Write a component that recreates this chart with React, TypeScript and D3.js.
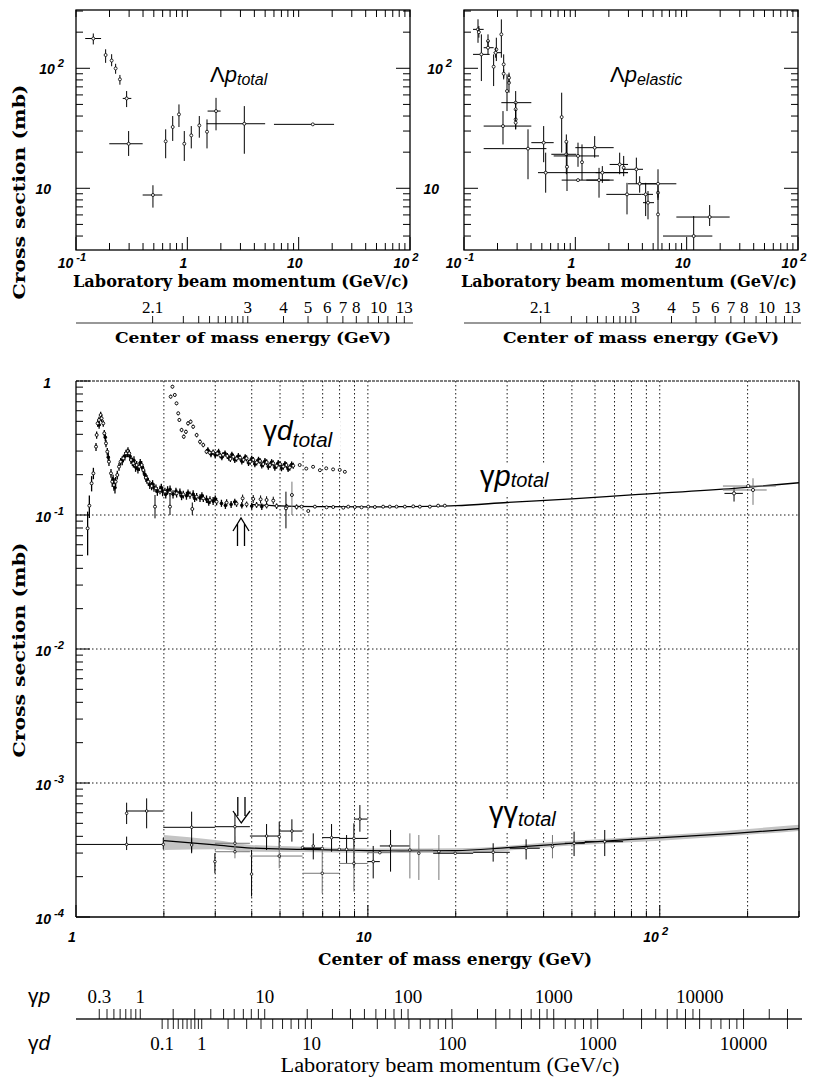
import React from "react";
import * as d3 from "d3";

// ---------------- constants (particle masses, GeV) ----------------
const mP = 0.93827, mL = 1.11568, mD = 1.87561;

// ---------------- DATA ----------------
// Λp total: [p (GeV/c), σ (mb), pLo, pHi, σLo, σHi]
const lambdaPTotal = [
  [0.143, 177, 0.121, 0.168, 158, 195],
  [0.1846, 129, null, null, 111, 144],
  [0.209, 116, null, null, 104, 131],
  [0.227, 99.8, null, null, 90, 109],
  [0.248, 80.9, null, null, 73, 88],
  [0.285, 56.1, 0.263, 0.314, 47.5, 64.6],
  [0.297, 23.5, 0.199, 0.397, 18.6, 30],
  [0.491, 8.79, 0.397, 0.596, 6.9, 10.6],
  [0.639, 24.6, null, null, 17.8, 31],
  [0.739, 32.4, null, null, 24.8, 40],
  [0.841, 41.3, null, null, 32.4, 50],
  [0.939, 23.5, null, null, 16.9, 30],
  [1.085, 27.6, null, null, 21.5, 33],
  [1.281, 33.4, null, null, 26.4, 40],
  [1.502, 29.6, null, null, 21.5, 37.5],
  [1.81, 44.0, 1.52, 1.99, 30.4, 56.7],
  [3.25, 34.5, 1.49, 5.0, 19.4, 48.4],
  [13.4, 34.1, 6.0, 20.8, null, null],
];

// Λp elastic: [p, σ, pLo, pHi, σLo, σHi]
const lambdaPElastic = [
  [0.1336, 211, 0.1205, 0.1502, 163, 256],
  [0.136, 200, null, null, 180, 225],
  [0.1432, 130.6, 0.1205, 0.17, 78.3, 191.7],
  [0.1643, 168.7, null, null, 143.7, 191.7],
  [0.1643, 148.4, 0.1502, 0.1846, 130.6, 168.7],
  [0.1952, 143.7, null, null, 114.9, 179.8],
  [0.1925, 134.9, 0.1846, 0.2165, 122.5, 148.4],
  [0.1846, 103.1, null, null, 71.1, 130.6],
  [0.2165, 191.7, null, null, 122.5, 255.6],
  [0.2272, 107.8, null, null, 80.8, 130.6],
  [0.2272, 90.1, null, null, 83.4, 98],
  [0.224, 33.0, 0.1502, 0.4026, 23.2, 44.0],
  [0.2434, 64.6, null, null, 44.0, 89.0],
  [0.2537, 75.8, null, null, 62.6, 89.0],
  [0.2537, 83.4, null, null, 75.8, 92],
  [0.2912, 51.7, 0.2165, 0.4026, 37.5, 64.6],
  [0.2912, 45.5, null, null, 39.2, 51.7],
  [0.2912, 37.5, null, null, 31.0, 45.5],
  [0.2912, 35.2, null, null, 31.0, 39.2],
  [0.3758, 21.4, 0.1502, 0.55, 11.9, 31.0],
  [0.5195, 24.0, 0.4026, 0.639, 16.5, 33.0],
  [0.5416, 13.5, 0.462, 2.973, 9.19, 19.8],
  [0.7539, 39.2, null, null, 19.8, 62.6],
  [0.8302, 19.2, 0.6088, 1.021, 13.1, 24.4],
  [0.8302, 24.4, null, null, 19.8, 28.1],
  [0.8417, 15.1, null, null, 9.49, 24.0],
  [1.057, 18.6, 0.639, 1.632, 15.1, 24.0],
  [1.148, 16.5, null, null, 11.7, 23.2],
  [1.057, 11.7, 0.7539, 2.034, null, null],
  [1.492, 21.8, 1.0, 2.21, 18.0, 27.2],
  [1.632, 11.7, 1.256, 2.21, 8.35, 14.8],
  [1.748, 13.5, 1.523, 2.973, 11.1, 15.3],
  [2.502, 15.8, 2.034, 2.973, 13.1, 19.8],
  [2.718, 14.8, null, null, 12.6, 18.6],
  [2.912, 8.9, 1.899, 3.917, 6.06, 11.1],
  [3.532, 14.4, 2.681, 4.054, 10.9, 18.0],
  [3.784, 10.9, 2.973, 5.342, 9.19, 12.6],
  [4.283, 8.9, 3.917, 4.985, 5.87, 11.1],
  [4.496, 7.59, 4.054, 5.089, 5.51, 9.49],
  [5.529, 10.9, 3.917, 8.078, 8.35, 14.4],
  [5.529, 9.19, null, null, 8.0, 10.5],
  [5.529, 6.06, null, null, 3.0, 9.49],
  [11.56, 4.0, 6.132, 17.01, 3.0, 5.87],
  [16.09, 5.76, 8.078, 24.34, 4.85, 7.25],
];

// γp total, resonance region and beyond: [√s (GeV), σ (mb), σLo, σHi]
const gammaPBand = [
  [1.096, 0.0795, 0.050, 0.106], [1.111, 0.1174, 0.095, 0.140], [1.131, 0.1723, 0.150, 0.195],
  [1.147, 0.2046, 0.185, 0.225], [1.171, 0.3236, 0.300, 0.345], [1.177, 0.3954, 0.370, 0.420],
  [1.186, 0.4831, 0.455, 0.510], [1.199, 0.5117, 0.485, 0.540], [1.215, 0.5574, 0.525, 0.590],
  [1.224, 0.5264, 0.495, 0.555], [1.240, 0.4831, 0.455, 0.510], [1.250, 0.4069, 0.385, 0.430],
  [1.267, 0.3424, 0.320, 0.365], [1.280, 0.2970, 0.278, 0.316], [1.297, 0.2500, 0.232, 0.268],
  [1.318, 0.2046, 0.190, 0.220], [1.331, 0.1773, 0.162, 0.192], [1.349, 0.1674, 0.152, 0.182],
  [1.367, 0.1773, 0.163, 0.192], [1.385, 0.1988, 0.184, 0.214], [1.404, 0.2294, 0.214, 0.245],
  [1.422, 0.2500, 0.234, 0.266], [1.453, 0.2648, 0.247, 0.282], [1.483, 0.2885, 0.270, 0.307],
  [1.507, 0.3003, 0.281, 0.320], [1.522, 0.2885, 0.270, 0.307], [1.543, 0.2573, 0.240, 0.275],
  [1.572, 0.2430, 0.226, 0.260], [1.614, 0.2361, 0.219, 0.253], [1.648, 0.2294, 0.213, 0.246],
  [1.679, 0.2361, 0.219, 0.253], [1.701, 0.2167, 0.201, 0.232], [1.736, 0.1900, 0.176, 0.204],
  [1.769, 0.1773, 0.165, 0.190], [1.816, 0.1645, 0.153, 0.176], [1.879, 0.1581, 0.147, 0.169],
  [1.940, 0.1537, 0.143, 0.165], [2.017, 0.1493, 0.139, 0.160], [2.099, 0.1476, 0.137, 0.158],
  [2.212, 0.1451, 0.135, 0.155], [2.331, 0.1426, 0.133, 0.152], [2.458, 0.1410, 0.132, 0.150],
  [2.590, 0.1370, 0.128, 0.146], [2.730, 0.1331, 0.125, 0.142], [2.877, 0.1294, 0.121, 0.138],
  [3.032, 0.1257, 0.118, 0.134], [3.281, 0.1236, 0.116, 0.131], [3.549, 0.1215, 0.115, 0.128],
  [3.841, 0.1201, 0.114, 0.126], [4.156, 0.1187, 0.113, 0.125], [4.498, 0.1174, 0.112, 0.123],
  [4.867, 0.1167, 0.111, 0.122], [5.266, 0.1154, 0.110, 0.121], [5.698, 0.1147, 0.110, 0.120],
];
const gammaPScatter = [
  [1.20, 0.470, 0.440, 0.500], [1.26, 0.380, 0.355, 0.405], [1.29, 0.270, 0.252, 0.290],
  [1.34, 0.185, 0.170, 0.200], [1.36, 0.160, 0.145, 0.175], [1.44, 0.255, 0.235, 0.275],
  [1.47, 0.275, 0.255, 0.295], [1.50, 0.290, 0.270, 0.312], [1.56, 0.250, 0.232, 0.268],
  [1.60, 0.228, 0.210, 0.246], [1.66, 0.245, 0.228, 0.262], [1.72, 0.200, 0.185, 0.215],
  [1.79, 0.168, 0.156, 0.180], [1.85, 0.160, 0.149, 0.172], [1.98, 0.150, 0.138, 0.162],
  [2.06, 0.153, 0.142, 0.164], [2.15, 0.143, 0.133, 0.153], [2.27, 0.148, 0.138, 0.158],
  [2.39, 0.139, 0.130, 0.149], [2.52, 0.143, 0.134, 0.153], [2.66, 0.134, 0.125, 0.143],
  [2.80, 0.131, 0.123, 0.140], [2.95, 0.127, 0.119, 0.136], [3.15, 0.122, 0.115, 0.130],
  [3.40, 0.120, 0.113, 0.127], [3.70, 0.118, 0.112, 0.125], [4.00, 0.1165, 0.110, 0.123],
  [4.33, 0.1155, 0.109, 0.122],
  [1.53, 0.275, 0.255, 0.295], [1.58, 0.255, 0.236, 0.274], [1.63, 0.220, 0.204, 0.236],
  [1.69, 0.225, 0.209, 0.241], [1.75, 0.185, 0.171, 0.199], [1.83, 0.170, 0.158, 0.182],
  [1.90, 0.150, 0.139, 0.161], [1.96, 0.160, 0.149, 0.171], [2.03, 0.143, 0.133, 0.153],
  [2.10, 0.155, 0.144, 0.166], [2.20, 0.150, 0.140, 0.160], [2.30, 0.138, 0.129, 0.147],
  [2.42, 0.146, 0.137, 0.155], [2.55, 0.133, 0.125, 0.141], [2.70, 0.139, 0.130, 0.148],
  [2.85, 0.125, 0.117, 0.133], [3.00, 0.132, 0.124, 0.140], [3.25, 0.118, 0.111, 0.125],
  [3.50, 0.125, 0.118, 0.132],
];
// [√s, σ, σLo, σHi, source]
const gammaPOutliers = [
  [1.865, 0.1154, 0.0944, 0.141, 0], [2.099, 0.1154, 0.100, 0.137, 0], [2.503, 0.1109, 0.100, 0.124, 0],
  [3.723, 0.1331, 0.125, 0.142, 0], [4.048, 0.1318, 0.123, 0.141, 0], [4.290, 0.1310, 0.122, 0.140, 0],
  [4.498, 0.1294, 0.121, 0.138, 0], [4.741, 0.1280, 0.120, 0.137, 0], [5.240, 0.1121, 0.0795, 0.1493, 0],
  [5.493, 0.1410, 0.100, 0.1773, 1],
];
// [√s, σ] high-energy points without visible bars
const gammaPHigh = [
  [5.927, 0.1154], [6.248, 0.1071], [6.585, 0.1154], [7.219, 0.1141], [7.607, 0.1147],
  [8.235, 0.1134], [8.564, 0.1154], [9.026, 0.1147], [9.513, 0.1141], [10.03, 0.1154],
  [10.57, 0.1147], [11.28, 0.1154], [11.89, 0.1154], [12.54, 0.1154], [13.39, 0.1154],
  [14.30, 0.1160], [15.07, 0.1154], [16.31, 0.1154], [17.41, 0.1174], [18.35, 0.1174],
];
// HERA: [√s, σ, sLo, sHi, σLo, σHi, source]
const gammaPHera = [
  [179.7, 0.145, 166.6, 192.7, 0.126, 0.160, 0],
  [208.7, 0.1537, 164.6, 232.5, 0.119, 0.188, 1],
  [201, 0.1645, 164.6, 250, null, null, 1],
];
// γp fit curve
const gammaPFitE = [4, 5, 7, 10, 13, 20, 30, 50, 80, 180, 300];
const gammaPFitS = [0.120, 0.117, 0.1155, 0.115, 0.1153, 0.1174, 0.124, 0.132, 0.1415, 0.158, 0.174];

// γd total: [√s, σ, σLo, σHi]
const gammaD = [
  [2.11, 0.764, 0.74, 0.79], [2.14, 0.907, 0.88, 0.935], [2.18, 0.787, 0.76, 0.81],
  [2.21, 0.681, 0.66, 0.70], [2.24, 0.574, 0.555, 0.59], [2.26, 0.512, 0.495, 0.53],
  [2.30, 0.431, 0.415, 0.447], [2.34, 0.384, 0.37, 0.398], [2.38, 0.418, 0.403, 0.433],
  [2.42, 0.483, 0.466, 0.50], [2.47, 0.497, 0.48, 0.515], [2.52, 0.456, 0.44, 0.472],
  [2.59, 0.395, 0.38, 0.41], [2.66, 0.352, 0.338, 0.366], [2.73, 0.333, 0.32, 0.346],
  [2.80, 0.297, 0.285, 0.31], [2.87, 0.292, 0.28, 0.305], [2.95, 0.294, 0.28, 0.308],
  [3.05, 0.288, 0.274, 0.302], [3.12, 0.278, 0.265, 0.292], [3.19, 0.281, 0.267, 0.295],
  [3.30, 0.276, 0.262, 0.29], [3.38, 0.262, 0.249, 0.275], [3.46, 0.272, 0.258, 0.286],
  [3.55, 0.264, 0.25, 0.278], [3.65, 0.268, 0.254, 0.282], [3.75, 0.258, 0.245, 0.271],
  [3.84, 0.265, 0.251, 0.279], [3.95, 0.250, 0.237, 0.263], [4.05, 0.258, 0.245, 0.271],
  [4.16, 0.247, 0.234, 0.26], [4.27, 0.253, 0.24, 0.266], [4.38, 0.240, 0.227, 0.253],
  [4.50, 0.248, 0.235, 0.261], [4.62, 0.236, 0.224, 0.248], [4.74, 0.243, 0.23, 0.256],
  [4.87, 0.233, 0.221, 0.245], [5.00, 0.240, 0.228, 0.252], [5.13, 0.230, 0.218, 0.242],
  [5.26, 0.236, 0.224, 0.248], [5.40, 0.226, 0.214, 0.238], [5.55, 0.233, 0.221, 0.245],
  [5.84, 0.236, null, null], [6.15, 0.222, null, null], [6.49, 0.229, null, null],
  [6.85, 0.216, null, null], [7.20, 0.223, null, null], [7.60, 0.219, null, null],
  [8.01, 0.217, null, null], [8.34, 0.210, null, null],
];
const gammaDScatter = [
  [2.83, 0.305, 0.29, 0.32], [2.90, 0.285, 0.27, 0.30], [3.00, 0.280, 0.265, 0.295],
  [3.08, 0.296, 0.28, 0.312], [3.16, 0.270, 0.256, 0.284], [3.24, 0.288, 0.273, 0.303],
  [3.34, 0.268, 0.254, 0.282], [3.42, 0.282, 0.267, 0.297], [3.50, 0.258, 0.244, 0.272],
  [3.60, 0.275, 0.26, 0.29], [3.70, 0.252, 0.238, 0.266], [3.80, 0.270, 0.256, 0.284],
  [3.90, 0.245, 0.232, 0.258], [4.00, 0.263, 0.249, 0.277], [4.10, 0.240, 0.227, 0.253],
  [4.22, 0.258, 0.244, 0.272], [4.33, 0.235, 0.222, 0.248], [4.44, 0.252, 0.238, 0.266],
  [4.56, 0.230, 0.218, 0.242], [4.68, 0.248, 0.235, 0.261], [4.80, 0.226, 0.214, 0.238],
  [4.93, 0.244, 0.231, 0.257], [5.06, 0.224, 0.212, 0.236], [5.20, 0.240, 0.227, 0.253],
  [5.33, 0.221, 0.209, 0.233], [5.48, 0.238, 0.225, 0.251],
];

// γγ total: [√s, σ, sLo, sHi, σLo, σHi, source]
const gammaGamma = [
  [1.491, 5.94e-4, null, null, 4.94e-4, 7.13e-4, 0],
  [1.746, 6.18e-4, 1.491, 1.991, 4.59e-4, 7.68e-4, 0],
  [1.491, 3.48e-4, 1.0, 1.991, 3.16e-4, 3.98e-4, 0],
  [1.991, 3.48e-4, null, null, 3.2e-4, 3.9e-4, 0],
  [2.490, 4.67e-4, 1.991, 2.992, 2.99e-4, 6.11e-4, 0],
  [2.490, 3.45e-4, null, null, 3.07e-4, 3.86e-4, 0],
  [2.992, 2.59e-4, null, null, 2.12e-4, 2.99e-4, 0],
  [3.504, 4.72e-4, 2.992, 3.943, 3.55e-4, 5.94e-4, 0],
  [3.504, 3.55e-4, 2.992, 3.943, 3.07e-4, 4.0e-4, 1],
  [3.504, 3.07e-4, 2.992, 3.943, 2.74e-4, 3.45e-4, 1],
  [3.995, 2.09e-4, null, null, 1.42e-4, 3.16e-4, 0],
  [4.497, 4.02e-4, 3.943, 4.970, 3.16e-4, 4.94e-4, 0],
  [4.970, 3.98e-4, null, null, 3.16e-4, 5.14e-4, 0],
  [4.970, 2.85e-4, 3.943, 5.973, 2.31e-4, 3.6e-4, 1],
  [5.492, 4.38e-4, 4.970, 5.973, 3.65e-4, 5.36e-4, 0],
  [5.973, 3.29e-4, 5.973, 6.977, null, null, 1],
  [6.500, 3.39e-4, null, null, 2.69e-4, 4.21e-4, 0],
  [6.977, 2.12e-4, 5.973, 7.978, 1.50e-4, 3.16e-4, 1],
  [6.977, 3.25e-4, 5.973, 6.977, null, null, 0],
  [7.509, 3.91e-4, 6.977, 7.978, 3.07e-4, 4.94e-4, 0],
  [7.978, 3.20e-4, 7.978, 8.956, null, null, 1],
  [8.454, 3.20e-4, null, null, 2.51e-4, 4.09e-4, 0],
  [8.956, 3.86e-4, 7.978, 9.974, 2.31e-4, 5.0e-4, 0],
  [8.956, 2.51e-4, 7.978, 9.974, 1.55e-4, 3.35e-4, 1],
  [9.389, 5.38e-4, 8.956, 9.974, 4.33e-4, 6.85e-4, 0],
  [10.43, 2.59e-4, 9.974, 10.99, 1.94e-4, 3.39e-4, 0],
  [10.99, 3.02e-4, 9.974, 11.96, null, null, 1],
  [11.96, 3.39e-4, 10.99, 13.93, 2.18e-4, 4.46e-4, 0],
  [13.93, 3.16e-4, 12.05, 16.74, 1.94e-4, 4.21e-4, 1],
  [14.95, 2.99e-4, null, null, 1.89e-4, 4.09e-4, 1],
  [17.51, 3.07e-4, null, null, 1.89e-4, 4.09e-4, 1],
  [19.91, 2.99e-4, 16.74, 22.95, null, null, 0],
  [26.87, 3.04e-4, 22.95, 30.64, 2.59e-4, 3.55e-4, 0],
  [34.85, 3.26e-4, 30.64, 38.82, 2.69e-4, 3.80e-4, 0],
  [42.90, 3.35e-4, null, null, 2.74e-4, 4.09e-4, 1],
  [50.88, 3.55e-4, 47.29, 55.36, 2.85e-4, 4.33e-4, 0],
  [64.8, 3.65e-4, 55.36, 74.89, 2.85e-4, 4.46e-4, 0],
];
// γγ fit and its band
const ggFitE = [2, 3, 4, 6, 8, 10, 13, 20, 30, 50, 80, 180, 300];
const ggFitS = [3.71e-4, 3.45e-4, 3.27e-4, 3.20e-4, 3.16e-4, 3.13e-4, 3.12e-4, 3.13e-4, 3.29e-4, 3.55e-4, 3.79e-4, 4.21e-4, 4.56e-4];
const ggBandE = [2, 3, 4, 6, 10, 20, 50, 100, 300];
const ggBandLo = [3.16e-4, 3.2e-4, 3.07e-4, 3.05e-4, 3.0e-4, 3.0e-4, 3.42e-4, 3.7e-4, 4.39e-4];
const ggBandHi = [4.09e-4, 3.75e-4, 3.45e-4, 3.35e-4, 3.25e-4, 3.26e-4, 3.7e-4, 4.05e-4, 4.88e-4];

// ---------------- tick labels ----------------
const topXLabels = [
  { v: 0.1, base: "10", exp: "-1" }, { v: 1, base: "1" }, { v: 10, base: "10" }, { v: 100, base: "10", exp: "2" },
];
const topYLabels = [{ v: 10, base: "10" }, { v: 100, base: "10", exp: "2" }];
const mainXLabels = [{ v: 1, base: "1" }, { v: 10, base: "10" }, { v: 100, base: "10", exp: "2" }];
const mainYLabels = [
  { v: 1, base: "1" }, { v: 0.1, base: "10", exp: "-1" }, { v: 0.01, base: "10", exp: "-2" },
  { v: 0.001, base: "10", exp: "-3" }, { v: 0.0001, base: "10", exp: "-4" },
];
const cmTicks = [2.1, 2.2, 2.3, 2.4, 2.5, 2.6, 2.7, 2.8, 2.9, 3, 4, 5, 6, 7, 8, 9, 10, 11, 12, 13];
const cmLabels = [2.1, 3, 4, 5, 6, 7, 8, 10, 13];
const gpLabels = [0.3, 1, 10, 100, 1000, 10000];
const gdLabels = [0.1, 1, 10, 100, 1000, 10000];

// ---------------- scales ----------------
const xTopL = d3.scaleLog().domain([0.1, 100]).range([76, 410]);
const xTopR = d3.scaleLog().domain([0.1, 100]).range([464, 798]);
const yTop = d3.scaleLog().domain([3.06, 306]).range([250, 10]);
const xMain = d3.scaleLog().domain([1, 300]).range([76, 799]);
const yMain = d3.scaleLog().domain([1e-4, 1]).range([917, 381]);

const SANS = "'Liberation Sans', Arial, Helvetica, sans-serif";
const SERIF = "'DejaVu Serif', 'Liberation Serif', serif";
const TIMES = "'Liberation Serif', 'Times New Roman', serif";

function logTicks(lo, hi) {
  const out = [];
  for (let d = Math.floor(Math.log10(lo)); d <= Math.ceil(Math.log10(hi)); d++) {
    for (let m = 1; m < 10; m++) {
      const v = m * Math.pow(10, d);
      if (v >= lo * 0.9999 && v <= hi * 1.0001) out.push({ v, major: m === 1 });
    }
  }
  return out;
}

// kinematics for secondary axes
const pLambdaFromEcm = (E) => {
  const El = (E * E - mL * mL - mP * mP) / (2 * mP);
  return Math.sqrt(El * El - mL * mL);
};
const ecmGammaP = (p) => Math.sqrt(mP * mP + 2 * mP * p);
const ecmGammaD = (p) => Math.sqrt(mD * mD + 2 * mD * p);

function Lbl({ x, y, base, exp, anchor, size = 14 }) {
  return (
    <text x={x} y={y} textAnchor={anchor} fontFamily={SANS} fontWeight="bold" fontStyle="italic" fontSize={size}>
      {base}
      {exp ? <tspan dx={3} dy={-7} fontSize={size * 0.8}>{exp}</tspan> : null}
    </text>
  );
}

function ErrPts({ rows, x, y, r = 1.6, colorOf }) {
  return (
    <g>
      {rows.map((d, i) => {
        const [e, s, elo, ehi, slo, shi, src] = d;
        const cx = x(e), cy = y(s);
        const col = colorOf ? colorOf(src) : "black";
        return (
          <g key={i} stroke={col} strokeWidth={1}>
            {elo != null ? <line x1={x(elo)} x2={x(ehi)} y1={cy} y2={cy} /> : null}
            {slo != null ? <line x1={cx} x2={cx} y1={y(slo)} y2={y(shi)} /> : null}
            <circle cx={cx} cy={cy} r={r} fill="white" stroke="black" strokeWidth={0.8} />
          </g>
        );
      })}
    </g>
  );
}

function VPts({ rows, x, y, r = 1.4, colorOf, w = 1, fill = "white" }) {
  return (
    <g>
      {rows.map((d, i) => {
        const [e, s, lo, hi, src] = d;
        const cx = x(e), cy = y(s);
        const col = colorOf ? colorOf(src) : "black";
        return (
          <g key={i}>
            {lo != null ? <line x1={cx} x2={cx} y1={y(lo)} y2={y(hi)} stroke={col} strokeWidth={w} /> : null}
            <circle cx={cx} cy={cy} r={r} fill={fill} stroke="black" strokeWidth={0.9} />
          </g>
        );
      })}
    </g>
  );
}

function TopPanel({ x, rows, id, labelX, sub }) {
  const [x0, x1] = x.range();
  const y0 = 10, y1 = 250;
  const xt = logTicks(0.1, 100);
  const yt = logTicks(3.06, 306);
  return (
    <g>
      <defs>
        <clipPath id={id}>
          <rect x={x0} y={y0} width={x1 - x0} height={y1 - y0} />
        </clipPath>
      </defs>
      <g clipPath={`url(#${id})`}>
        <ErrPts rows={rows} x={x} y={yTop} r={1.5} />
      </g>
      <g stroke="black" strokeWidth={1}>
        {yt.map((t, i) => {
          const yy = yTop(t.v);
          const L = t.major ? 14 : 7;
          return (
            <g key={i}>
              <line x1={x0} x2={x0 + L} y1={yy} y2={yy} />
              <line x1={x1} x2={x1 - L} y1={yy} y2={yy} />
            </g>
          );
        })}
        {xt.map((t, i) => {
          const xx = x(t.v);
          const L = t.major ? 13 : 7;
          return (
            <g key={i}>
              <line x1={xx} x2={xx} y1={y1} y2={y1 - L} />
              <line x1={xx} x2={xx} y1={y0} y2={y0 + 7} />
            </g>
          );
        })}
      </g>
      <rect x={x0} y={y0} width={x1 - x0} height={y1 - y0} fill="none" stroke="black" strokeWidth={1.3} />
      {topYLabels.map((l, i) => (
        <Lbl key={i} x={l.exp ? x0 - 12 : x0 - 25} y={yTop(l.v) + 6} base={l.base} exp={l.exp} anchor="end" />
      ))}
      {topXLabels.map((l, i) => (
        <Lbl key={i} x={x(l.v) - 4} y={268} base={l.base} exp={l.exp} anchor="middle" />
      ))}
      <text x={labelX} y={82} fontFamily={SANS} fontSize={22}>
        Λ<tspan fontStyle="italic">p</tspan>
        <tspan fontStyle="italic" fontSize={16} dy={3}>{sub}</tspan>
      </text>
      <text x={(x0 + x1) / 2 - 2} y={287} textAnchor="middle" fontFamily={SERIF} fontWeight="bold" fontSize={16}
        textLength={336} lengthAdjust="spacingAndGlyphs">
        Laboratory beam momentum (GeV/c)
      </text>
      {/* centre-of-mass energy axis */}
      <line x1={x0} x2={x0 + 337} y1={323} y2={323} stroke="#333" strokeWidth={1.2} />
      {cmTicks.map((E, i) => {
        const xx = x(pLambdaFromEcm(E));
        return <line key={i} x1={xx} x2={xx} y1={323} y2={316} stroke="black" strokeWidth={0.9} />;
      })}
      {cmLabels.map((E, i) => (
        <text key={i} x={x(pLambdaFromEcm(E))} y={313} textAnchor="middle" fontFamily={TIMES} fontSize={17}>
          {E}
        </text>
      ))}
      <text x={(x0 + x1) / 2 + 10} y={343} textAnchor="middle" fontFamily={SERIF} fontWeight="bold" fontSize={15}
        textLength={276} lengthAdjust="spacingAndGlyphs">
        Center of mass energy (GeV)
      </text>
    </g>
  );
}

function MainPanel() {
  const x0 = 76, x1 = 799, y0 = 381, y1 = 917;
  const gridX = logTicks(1, 300).filter((t) => t.v > 1.001 && t.v < 299);
  const yt = logTicks(1e-4, 1);
  const line = d3.line().curve(d3.curveMonotoneX);
  const gpFit = line(gammaPFitE.map((e, i) => [xMain(e), yMain(gammaPFitS[i])]));
  const ggFit = line(ggFitE.map((e, i) => [xMain(e), yMain(ggFitS[i])]));
  const ggBand = d3
    .area()
    .curve(d3.curveMonotoneX)
    .x((d) => d[0])
    .y0((d) => d[1])
    .y1((d) => d[2])(ggBandE.map((e, i) => [xMain(e), yMain(ggBandLo[i]), yMain(ggBandHi[i])]));
  const gray = (src) => (src === 1 ? "#777" : "black");
  return (
    <g>
      <defs>
        <clipPath id="clipMain">
          <rect x={x0} y={y0} width={x1 - x0} height={y1 - y0} />
        </clipPath>
      </defs>
      <g stroke="black" strokeWidth={0.9} strokeDasharray="1.5,2.5">
        {gridX.map((t, i) => (
          <line key={i} x1={xMain(t.v)} x2={xMain(t.v)} y1={y0} y2={y1} />
        ))}
        {[0.1, 0.01, 0.001].map((v, i) => (
          <line key={i} x1={x0} x2={x1} y1={yMain(v)} y2={yMain(v)} />
        ))}
      </g>
      {/* white boxes behind annotations */}
      <rect x={260} y={418} width={80} height={35} fill="white" />
      <rect x={478} y={463} width={78} height={33} fill="white" />
      <rect x={487} y={801} width={76} height={32} fill="white" />
      <g clipPath="url(#clipMain)">
        <path d={ggBand} fill="#c4c4c4" stroke="none" />
        <path d={gpFit} fill="none" stroke="black" strokeWidth={1.3} />
        <path d={ggFit} fill="none" stroke="black" strokeWidth={1.2} />
        <VPts rows={gammaPScatter} x={xMain} y={yMain} r={1.4} w={1.3} fill="black" />
        <VPts rows={gammaPBand} x={xMain} y={yMain} r={1.5} w={1.3} />
        <VPts rows={gammaPOutliers} x={xMain} y={yMain} r={1.5} colorOf={gray} />
        <VPts rows={gammaPHigh.map((d) => [d[0], d[1], null, null])} x={xMain} y={yMain} r={1.5} />
        <ErrPts rows={gammaPHera} x={xMain} y={yMain} r={1.6} colorOf={gray} />
        <VPts rows={gammaDScatter} x={xMain} y={yMain} r={1.4} w={1.3} fill="black" />
        <VPts rows={gammaD} x={xMain} y={yMain} r={1.5} w={1.3} />
        <ErrPts rows={gammaGamma} x={xMain} y={yMain} r={1.3} colorOf={gray} />
      </g>
      {/* frame */}
      <g stroke="black" strokeWidth={1.3}>
        <line x1={x0} x2={x0} y1={y0} y2={y1} />
        <line x1={x0} x2={x1} y1={y1} y2={y1} />
        <line x1={x1} x2={x1} y1={y0} y2={y1} />
      </g>
      <line x1={x0} x2={x1} y1={y0} y2={y0} stroke="black" strokeWidth={1.2} strokeDasharray="3,1" />
      <g stroke="black" strokeWidth={1}>
        {yt.map((t, i) => {
          const yy = yMain(t.v);
          const L = t.major ? 14 : 7;
          return <line key={i} x1={x0} x2={x0 + L} y1={yy} y2={yy} />;
        })}
        {logTicks(1, 300).map((t, i) => {
          const xx = xMain(t.v);
          const L = t.major ? 12 : 6;
          return <line key={i} x1={xx} x2={xx} y1={y1} y2={y1 - L} />;
        })}
      </g>
      {mainYLabels.map((l, i) => (
        <Lbl key={i} x={l.exp ? 64 : 51} y={yMain(l.v) + 7} base={l.base} exp={l.exp} anchor="end" />
      ))}
      {mainXLabels.map((l, i) => (
        <Lbl key={i} x={xMain(l.v) - 4} y={942} base={l.base} exp={l.exp} anchor="middle" />
      ))}
      {/* annotations */}
      <text x={263} y={440} fontFamily={SANS} fontSize={28}>
        γ<tspan fontStyle="italic">d</tspan>
        <tspan fontStyle="italic" fontSize={21} dy={7}>total</tspan>
      </text>
      <text x={480} y={486} fontFamily={SANS} fontSize={29}>
        γ<tspan fontStyle="italic">p</tspan>
        <tspan fontStyle="italic" fontSize={20} dy={1}>total</tspan>
      </text>
      <text x={489} y={822} fontFamily={SANS} fontSize={29}>
        γγ<tspan fontStyle="italic" fontSize={20} dy={4}>total</tspan>
      </text>
      {/* arrows */}
      <g fill="none" stroke="black" strokeWidth={1.3}>
        <path d="M233,531 L241,518 L249,531 M237.5,524 V546 M244.5,524 V546" />
        <path d="M233,811 L241.3,823 L250,811 M237.8,797 V816 M245,797 V816" />
      </g>
      <text x={455} y={965} textAnchor="middle" fontFamily={SERIF} fontWeight="bold" fontSize={16}
        textLength={274} lengthAdjust="spacingAndGlyphs">
        Center of mass energy (GeV)
      </text>
    </g>
  );
}

function LabAxis() {
  const yL = 1019;
  const gpT = logTicks(0.3, 40000).filter((t) => xMain(ecmGammaP(t.v)) <= 802);
  const gdT = logTicks(0.1, 20000).filter((t) => xMain(ecmGammaD(t.v)) <= 802);
  return (
    <g>
      <line x1={76} x2={802} y1={yL} y2={yL} stroke="#555" strokeWidth={2} />
      {gpT.map((t, i) => {
        const xx = xMain(ecmGammaP(t.v));
        return <line key={"p" + i} x1={xx} x2={xx} y1={yL} y2={yL - 10} stroke="black" strokeWidth={0.9} />;
      })}
      {gdT.map((t, i) => {
        const xx = xMain(ecmGammaD(t.v));
        return <line key={"d" + i} x1={xx} x2={xx} y1={yL} y2={yL + 10} stroke="black" strokeWidth={0.9} />;
      })}
      {gpLabels.map((v, i) => (
        <text key={i} x={xMain(ecmGammaP(v))} y={1003} textAnchor="middle" fontFamily={TIMES} fontSize={19}>
          {v}
        </text>
      ))}
      {gdLabels.map((v, i) => (
        <text key={i} x={xMain(ecmGammaD(v))} y={1050} textAnchor="middle" fontFamily={TIMES} fontSize={19}>
          {v}
        </text>
      ))}
      <text x={28} y={1003} fontFamily={SANS} fontSize={21}>
        γ<tspan fontStyle="italic">p</tspan>
      </text>
      <text x={28} y={1050} fontFamily={SANS} fontSize={21}>
        γ<tspan fontStyle="italic">d</tspan>
      </text>
      <text x={450} y={1072} textAnchor="middle" fontFamily={TIMES} fontSize={20}
        textLength={339} lengthAdjust="spacingAndGlyphs">
        Laboratory beam momentum (GeV/c)
      </text>
    </g>
  );
}

export default function App() {
  return (
    <svg width={817} height={1081} viewBox="0 0 817 1081"
      style={{ position: "absolute", left: 0, top: 0, background: "white" }}>
      <rect x={0} y={0} width={817} height={1081} fill="white" />
      <TopPanel x={xTopL} rows={lambdaPTotal} id="clipTL" labelX={210} sub="total" />
      <TopPanel x={xTopR} rows={lambdaPElastic} id="clipTR" labelX={610} sub="elastic" />
      <text transform="translate(25,192) rotate(-90)" textAnchor="middle" fontFamily={SERIF} fontWeight="bold"
        fontSize={17} textLength={215} lengthAdjust="spacingAndGlyphs">
        Cross section (mb)
      </text>
      <text transform="translate(25,650) rotate(-90)" textAnchor="middle" fontFamily={SERIF} fontWeight="bold"
        fontSize={17} textLength={215} lengthAdjust="spacingAndGlyphs">
        Cross section (mb)
      </text>
      <MainPanel />
      <LabAxis />
    </svg>
  );
}
